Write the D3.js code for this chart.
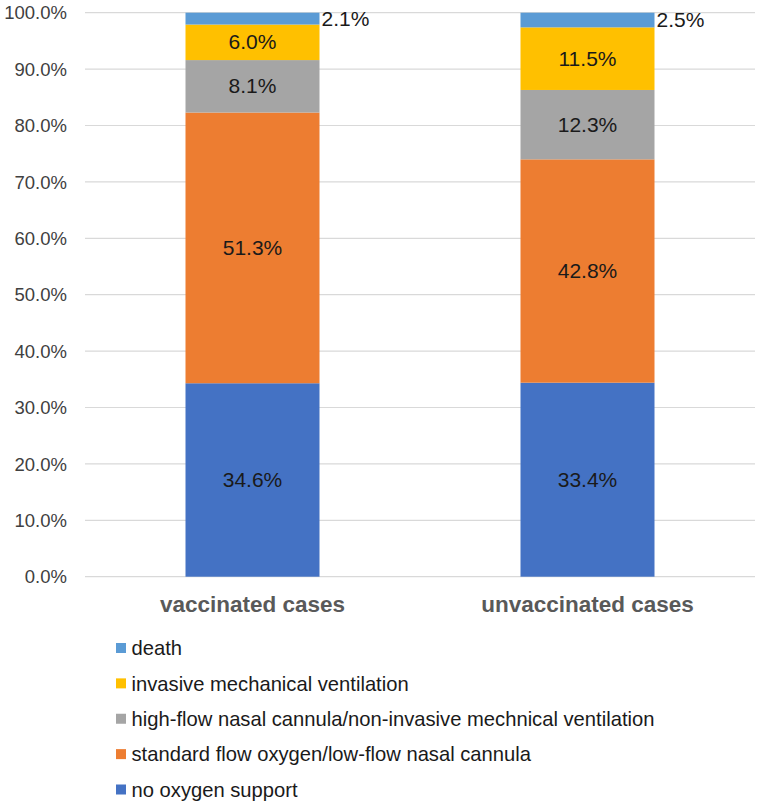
<!DOCTYPE html>
<html>
<head>
<meta charset="utf-8">
<script src="https://cdn.jsdelivr.net/npm/d3@7/dist/d3.min.js"></script>
<style>
  html, body { margin: 0; padding: 0; background: #fff; }
  svg { display: block; font-family: "Liberation Sans", Arial, sans-serif; }
</style>
</head>
<body>
<svg id="chart" width="760" height="805"></svg>
<script>
// ---- data ----
const categories = ["vaccinated cases", "unvaccinated cases"];
const seriesNames = [
  "no oxygen support",
  "standard flow oxygen/low-flow nasal cannula",
  "high-flow nasal cannula/non-invasive mechnical ventilation",
  "invasive mechanical ventilation",
  "death"
];
const seriesColors = ["#4472C4", "#ED7D31", "#A5A5A5", "#FFC000", "#5B9BD5"];
// bar segment heights as drawn (share of bar, %)
const vaccinatedHeights = [34.3, 48.0, 9.3, 6.3, 2.1];
const unvaccinatedHeights = [34.4, 39.6, 12.3, 11.1, 2.6];
// printed data labels (%)
const vaccinatedLabels = [34.6, 51.3, 8.1, 6.0, 2.1];
const unvaccinatedLabels = [33.4, 42.8, 12.3, 11.5, 2.5];
const yTicks = [0, 0.1, 0.2, 0.3, 0.4, 0.5, 0.6, 0.7, 0.8, 0.9, 1.0];

const heights = [vaccinatedHeights, unvaccinatedHeights];
const labels = [vaccinatedLabels, unvaccinatedLabels];

const rows = categories.map((c, i) => {
  const r = { cat: c };
  seriesNames.forEach((s, j) => { r[s] = heights[i][j] / 100; r[s + "_label"] = labels[i][j]; });
  return r;
});

const svg = d3.select("#chart");
const plot = { left: 85, right: 755, top: 12.7, bottom: 576.7 };

const x = d3.scaleBand().domain(categories).range([plot.left, plot.right])
  .paddingInner(0.6).paddingOuter(0.3);
const y = d3.scaleLinear().domain([0, 1]).range([plot.bottom, plot.top]);

// gridlines
svg.append("g").selectAll("line").data(yTicks).join("line")
  .attr("x1", plot.left).attr("x2", plot.right)
  .attr("y1", d => y(d)).attr("y2", d => y(d))
  .attr("stroke", "#D9D9D9").attr("stroke-width", 1.2);

// y axis labels
const fmtAxis = d3.format(".1%");
svg.append("g").selectAll("text").data(yTicks).join("text")
  .attr("x", 67).attr("y", d => y(d))
  .attr("dy", "0.36em")
  .attr("text-anchor", "end")
  .attr("font-size", 18.5)
  .attr("fill", "#404040")
  .text(d => fmtAxis(d));

// stacked bars
const stack = d3.stack().keys(seriesNames);
const stacked = stack(rows);

const layers = svg.append("g").selectAll("g").data(stacked).join("g")
  .attr("fill", (d, i) => seriesColors[i]);

layers.selectAll("rect").data(d => d.map(p => ({ p, key: d.key }))).join("rect")
  .attr("x", d => x(d.p.data.cat))
  .attr("width", x.bandwidth())
  .attr("y", d => y(d.p[1]))
  .attr("height", d => y(d.p[0]) - y(d.p[1]));

// data labels
const fmtLab = d => d3.format(".1f")(d) + "%";
stacked.forEach((layer, li) => {
  const isTop = li === stacked.length - 1;
  svg.append("g").selectAll("text").data(layer).join("text")
    .attr("x", d => isTop ? x(d.data.cat) + x.bandwidth() + 2 : x(d.data.cat) + x.bandwidth() / 2)
    .attr("y", d => y((d[0] + d[1]) / 2))
    .attr("dy", "0.34em")
    .attr("text-anchor", isTop ? "start" : "middle")
    .attr("font-size", 21)
    .attr("fill", "#1a1a1a")
    .text(d => fmtLab(d.data[layer.key + "_label"]));
});

// category labels
svg.append("g").selectAll("text").data(categories).join("text")
  .attr("x", d => x(d) + x.bandwidth() / 2)
  .attr("y", 612)
  .attr("text-anchor", "middle")
  .attr("font-size", 22.5)
  .attr("font-weight", "bold")
  .attr("fill", "#595959")
  .text(d => d);

// legend (reverse order)
const legendItems = seriesNames.map((s, i) => ({ name: s, color: seriesColors[i] })).reverse();
const ly = d3.scalePoint().domain(legendItems.map(d => d.name)).range([648, 789.5]);
const lg = svg.append("g").selectAll("g").data(legendItems).join("g")
  .attr("transform", d => `translate(0,${ly(d.name)})`);
lg.append("rect").attr("x", 116).attr("y", -5).attr("width", 10).attr("height", 10)
  .attr("fill", d => d.color);
lg.append("text").attr("x", 131.5).attr("dy", "0.36em")
  .attr("font-size", 20.2).attr("fill", "#1a1a1a")
  .text(d => d.name);
</script>
</body>
</html>
